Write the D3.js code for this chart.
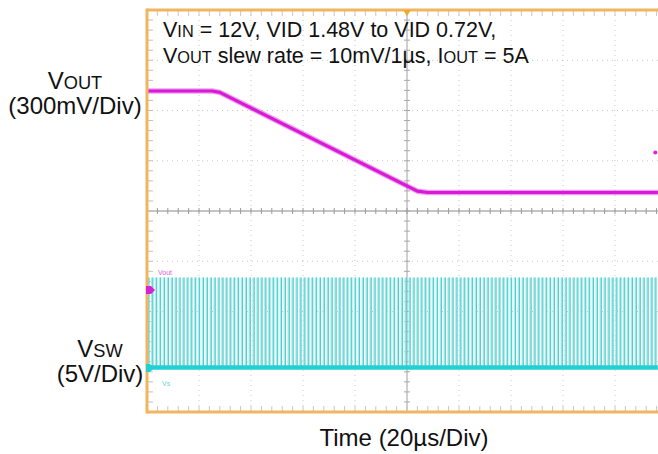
<!DOCTYPE html>
<html><head><meta charset="utf-8">
<script src="https://cdn.jsdelivr.net/npm/d3@7/dist/d3.min.js"></script>
<style>html,body{margin:0;padding:0;background:#fff;}svg{display:block;font-family:"Liberation Sans",Arial,sans-serif;}</style>
</head><body>
<svg id="c" width="658" height="454"></svg>
<script>
// ---- data ----
// time axis: 20 us/div, 10 divisions on screen (right edge cropped)
const timeDivs = [0,1,2,3,4,5,6,7,8,9,10];
const voltDivs = [-4,-3,-2,-1,0,1,2,3,4];
// VOUT trace: [time (us), volts]
const voutT = [0, 25, 28, 104, 108, 196.5];
const voutV = [1.48, 1.48, 1.47, 0.73, 0.72, 0.72];
// stray VOUT dot near right edge
const voutDot = [[195.5, 1.02]];
// VSW switching pulses: rising edge times (us)
const swEdges = [
 0.5,2,3.5,5,6.5,8,9.5,11,12.5,14,
 15.5,17,18.5,20,21.5,23,24.5,26,27.5,29,
 30.5,32,33.5,35,36.5,38,39.5,41,42.5,44,
 45.5,47,48.5,50,51.5,53,54.5,56,57.5,59,
 60.5,62,63.5,65,66.5,68,69.5,71,72.5,74,
 75.5,77,78.5,80,81.5,83,84.5,86,87.5,89,
 90.5,92,93.5,95,96.5,98,99.5,101,102.5,104,
 105.5,107,108.5,110,111.5,113,114.5,116,117.5,119,
 120.5,122,123.5,125,126.5,128,129.5,131,132.5,134,
 135.5,137,138.5,140,141.5,143,144.5,146,147.5,149,
 150.5,152,153.5,155,156.5,158,159.5,161,162.5,164,
 165.5,167,168.5,170,171.5,173,174.5,176,177.5,179,
 180.5,182,183.5,185,186.5,188,189.5,191,192.5,194,195.5
];
const vswLow = 0, vswHigh = 12; // volts
const swEnd = [0, 196.5];

// ---- scales ----
const svg = d3.select("#c");
const x = d3.scaleLinear().domain([0, 200]).range([147, 667]);
const yDiv = d3.scaleLinear().domain([-4, 4]).range([412, 10]);
const yOut = d3.scaleLinear().domain([0.72, 1.48]).range([192.5, 91]);
const ySw = d3.scaleLinear().domain([vswLow, vswHigh]).range([367.5, 277.5]);

// ---- grid ----
const g = svg.append("g");
timeDivs.slice(1).forEach(d => {
  if (d === 5) return;
  g.append("line").attr("x1", x(d*20)).attr("x2", x(d*20)).attr("y1", 10).attr("y2", 412)
   .attr("stroke", "#c8c8c8").attr("stroke-width", 1).attr("stroke-dasharray", "1,4");
});
voltDivs.forEach(d => {
  if (d === 0 || Math.abs(d) === 4) return;
  g.append("line").attr("x1", 147).attr("x2", 658).attr("y1", yDiv(d)).attr("y2", yDiv(d))
   .attr("stroke", "#c8c8c8").attr("stroke-width", 1).attr("stroke-dasharray", "1,4");
});
g.append("line").attr("x1", x(100)).attr("x2", x(100)).attr("y1", 10).attr("y2", 412)
 .attr("stroke", "#a0a0a0").attr("stroke-width", 1);
g.append("line").attr("x1", 147).attr("x2", 658).attr("y1", yDiv(0)).attr("y2", yDiv(0))
 .attr("stroke", "#8a8a8a").attr("stroke-width", 1.2);
const minorT = d3.range(0, 200.01, 4);
const minorV = d3.range(-4, 4.001, 0.2);
minorT.forEach(t => {
  const xx = x(t);
  g.append("line").attr("x1", xx).attr("x2", xx).attr("y1", yDiv(0)-3).attr("y2", yDiv(0)+3).attr("stroke","#9a9a9a");
  g.append("line").attr("x1", xx).attr("x2", xx).attr("y1", 11).attr("y2", 16).attr("stroke","#c8c8c8");
  g.append("line").attr("x1", xx).attr("x2", xx).attr("y1", 406).attr("y2", 411).attr("stroke","#c8c8c8");
});
minorV.forEach(v => {
  const yy = yDiv(v);
  g.append("line").attr("x1", x(100)-3).attr("x2", x(100)+3).attr("y1", yy).attr("y2", yy).attr("stroke","#a8a8a8");
  g.append("line").attr("x1", 148).attr("x2", 153).attr("y1", yy).attr("y2", yy).attr("stroke","#c0c0c0");
});

// ---- VSW trace ----
const sw = svg.append("g");
sw.selectAll("rect.p").data(swEdges).join("rect")
  .attr("x", d => x(d) - 1.2).attr("width", 2.4)
  .attr("y", ySw(vswHigh)).attr("height", ySw(vswLow) - ySw(vswHigh))
  .attr("fill", "#a6ecec");
sw.selectAll("line.p").data(swEdges).join("line")
  .attr("x1", d => x(d)+0.6).attr("x2", d => x(d)+0.6)
  .attr("y1", ySw(vswHigh)).attr("y2", ySw(vswLow))
  .attr("stroke", "#52cccc").attr("stroke-width", 1);
sw.append("line").attr("x1", x(swEnd[0])).attr("x2", x(swEnd[1]))
  .attr("y1", ySw(vswLow)).attr("y2", ySw(vswLow))
  .attr("stroke", "#22d0d4").attr("stroke-width", 4.5);

// ---- VOUT trace ----
const line = d3.line().x(d => x(d[0])).y(d => yOut(d[1]));
const voutData = voutT.map((t, i) => [t, voutV[i]]);
svg.append("path").datum(voutData).attr("d", line)
  .attr("fill", "none").attr("stroke", "#e040e0").attr("stroke-width", 5.5).attr("stroke-linejoin","round").attr("opacity",0.5);
svg.append("path").datum(voutData).attr("d", line)
  .attr("fill", "none").attr("stroke", "#d81ad8").attr("stroke-width", 3.2).attr("stroke-linejoin","round");
svg.selectAll("circle.dot").data(voutDot).join("circle")
  .attr("cx", d => x(d[0])).attr("cy", d => yOut(d[1])).attr("r", 2).attr("fill", "#e020e0");

// ---- frame ----
svg.append("line").attr("x1", 147).attr("x2", 658).attr("y1", 10).attr("y2", 10).attr("stroke", "#f0b55e").attr("stroke-width", 3);
svg.append("line").attr("x1", 147).attr("x2", 658).attr("y1", 412).attr("y2", 412).attr("stroke", "#f0b55e").attr("stroke-width", 3);
svg.append("line").attr("x1", 147).attr("x2", 147).attr("y1", 8.5).attr("y2", 413.5).attr("stroke", "#f0b55e").attr("stroke-width", 3);
svg.append("path").attr("d", `M${x(100)-4},10 L${x(100)+4},10 L${x(100)},16 Z`).attr("fill", "#f0a830");
svg.append("path").attr("d", `M146,286 L151,286 L155,290 L151,294 L146,294 Z`).attr("fill", "#d820d8");
svg.append("path").attr("d", `M146,364 L150,364 L154,368 L150,372 L146,372 Z`).attr("fill", "#22d0d4");
svg.append("text").attr("x", 158).attr("y", 275).attr("font-size", 7).attr("fill", "#e060e0").text("Vout");
svg.append("text").attr("x", 162).attr("y", 386).attr("font-size", 7).attr("fill", "#60d8d8").text("Vs");

// ---- texts ----
function sub(t, parts, size) {
  parts.forEach(p => {
    const ts = t.append("tspan").text(p[0]);
    if (p[1]) ts.attr("font-size", size * 0.76);
  });
}
const fs = 21.5;
const t1 = svg.append("text").attr("x", 163).attr("y", 37).attr("font-size", fs).attr("fill", "#111");
sub(t1, [["V"],["IN",1],[" = 12V, VID 1.48V to VID 0.72V,"]], fs);
const t2 = svg.append("text").attr("x", 163).attr("y", 63).attr("font-size", fs).attr("fill", "#111");
sub(t2, [["V"],["OUT",1],[" slew rate = 10mV/1\u00b5s, I"],["OUT",1],[" = 5A"]], fs);

const ls = 24;
const l1 = svg.append("text").attr("x", 75).attr("y", 89).attr("font-size", ls).attr("text-anchor","middle").attr("fill","#111");
sub(l1, [["V"],["OUT",1]], ls);
svg.append("text").attr("x", 75).attr("y", 114).attr("font-size", ls).attr("text-anchor","middle").attr("fill","#111").text("(300mV/Div)");
const l2 = svg.append("text").attr("x", 100).attr("y", 357).attr("font-size", ls).attr("text-anchor","middle").attr("fill","#111");
sub(l2, [["V"],["SW",1]], ls);
svg.append("text").attr("x", 100).attr("y", 382).attr("font-size", ls).attr("text-anchor","middle").attr("fill","#111").text("(5V/Div)");
svg.append("text").attr("x", 404).attr("y", 446).attr("font-size", ls).attr("text-anchor","middle").attr("fill","#111").text("Time (20\u00b5s/Div)");
</script>
</body></html>
